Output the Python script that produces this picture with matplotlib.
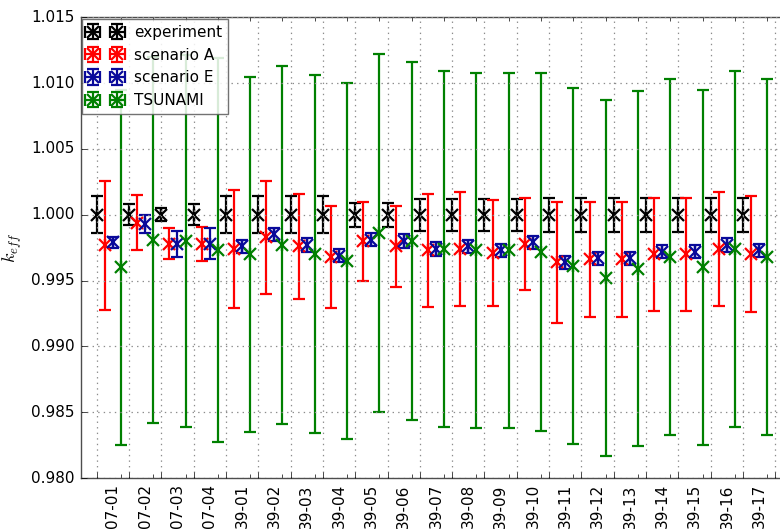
import numpy as np
import matplotlib
matplotlib.use("Agg")
import matplotlib.pyplot as plt

plt.style.use("classic")
plt.rcParams["font.size"] = 11

# benchmark cases
cases = ["07-01", "07-02", "07-03", "07-04",
         "39-01", "39-02", "39-03", "39-04", "39-05", "39-06", "39-07", "39-08",
         "39-09", "39-10", "39-11", "39-12", "39-13", "39-14", "39-15", "39-16", "39-17"]

# experimental keff and uncertainty
exp_val = [1.0000] * 21
exp_err = [0.0014, 0.0008, 0.0005, 0.0008, 0.0014, 0.0014, 0.0014, 0.0014, 0.0009, 0.0009,
           0.0012, 0.0012, 0.0012, 0.0012, 0.0013, 0.0013, 0.0013, 0.0013, 0.0013, 0.0013, 0.0013]

# scenario A
a_val = [0.9977, 0.9994, 0.9978, 0.9978, 0.9974, 0.9983, 0.9976, 0.9968, 0.9980, 0.9976,
         0.9973, 0.9974, 0.9971, 0.9978, 0.9964, 0.9966, 0.9966, 0.9970, 0.9970, 0.9974, 0.9970]
a_err = [0.0049, 0.0021, 0.0012, 0.0013, 0.0045, 0.0043, 0.0040, 0.0039, 0.0030, 0.0031,
         0.0043, 0.0043, 0.0040, 0.0035, 0.0046, 0.0044, 0.0044, 0.0043, 0.0043, 0.0043, 0.0044]

# scenario E
e_val = [0.9979, 0.9993, 0.9978, 0.9978, 0.9976, 0.9985, 0.9977, 0.9969, 0.9981, 0.9980,
         0.9974, 0.9976, 0.9973, 0.9979, 0.9964, 0.9967, 0.9967, 0.9972, 0.9972, 0.9977, 0.9973]
e_err = [0.0004, 0.0007, 0.0010, 0.0012, 0.0005, 0.0005, 0.0005, 0.0005, 0.0005, 0.0005,
         0.0005, 0.0005, 0.0005, 0.0005, 0.0005, 0.0005, 0.0005, 0.0005, 0.0005, 0.0005, 0.0005]

# TSUNAMI
t_val = [0.9960, 0.9981, 0.9980, 0.9973, 0.9970, 0.9977, 0.9970, 0.9965, 0.9986, 0.9980,
         0.9974, 0.9973, 0.9973, 0.9972, 0.9961, 0.9952, 0.9959, 0.9968, 0.9960, 0.9974, 0.9968]
t_err = [0.0135, 0.0139, 0.0141, 0.0146, 0.0135, 0.0136, 0.0136, 0.0135, 0.0136, 0.0136,
         0.0135, 0.0135, 0.0135, 0.0136, 0.0135, 0.0135, 0.0135, 0.0135, 0.0135, 0.0135, 0.0135]

series = [
    ("experiment", exp_val, exp_err, "k", 0.00),
    ("scenario A", a_val, a_err, "r", 0.25),
    ("scenario E", e_val, e_err, "#0a0a9a", 0.50),
    ("TSUNAMI", t_val, t_err, "g", 0.75),
]

x = np.arange(len(cases))
no_xerr = np.zeros(len(cases))

fig = plt.figure(figsize=(7.8, 5.29), dpi=100, facecolor="white")
ax = fig.add_axes([80.5 / 780, 51 / 529, 711 / 780, 460.7 / 529])

for label, val, err, col, off in series:
    ax.errorbar(x + off, val, yerr=err, xerr=no_xerr, fmt="x", color=col, ecolor=col,
                markeredgecolor=col, markersize=8, markeredgewidth=1.6,
                elinewidth=1.6, capsize=4, capthick=1.6, label=label)

ax.set_xlim(-0.5, len(cases) + 0.5)
ax.set_ylim(0.980, 1.015)
ax.set_yticks(np.arange(0.980, 1.0151, 0.005))
ax.yaxis.set_major_formatter(matplotlib.ticker.FormatStrFormatter("%.3f"))

# grid on the series positions, case names centred between
ax.set_xticks(np.arange(len(cases) + 1))
ax.set_xticklabels([])
ax.set_xticks(x + 0.5, minor=True)
ax.set_xticklabels(cases, minor=True, rotation=90)
ax.tick_params(axis="x", which="minor", length=0, pad=4.5)
ax.tick_params(axis="both", which="major", direction="in", length=4)
ax.grid(True, which="major", color="0.55", linestyle=":", linewidth=0.9)
ax.set_ylabel(r"$k_{eff}$", fontsize=13)
for sp in ax.spines.values():
    sp.set_edgecolor("0.3")

# small marks at the TSUNAMI positions
ax2 = ax.twiny()
ax2.set_xlim(ax.get_xlim())
ax2.set_xticks(x + 0.75)
ax2.tick_params(axis="x", which="major", direction="in", length=3,
                top=True, bottom=True, labeltop=False, labelbottom=False)
ax2.tick_params(axis="x", which="minor", length=0)
for sp in ax2.spines.values():
    sp.set_visible(False)
ax.set_zorder(ax2.get_zorder() + 1)
ax.patch.set_visible(False)

leg = ax.legend(loc="upper left", numpoints=2, fontsize=11, borderaxespad=0.1,
                framealpha=0.85, fancybox=False, handlelength=2.2, labelspacing=0.5)
leg.get_frame().set_edgecolor("0.35")

fig.savefig("out.png", dpi=100, facecolor="white")
